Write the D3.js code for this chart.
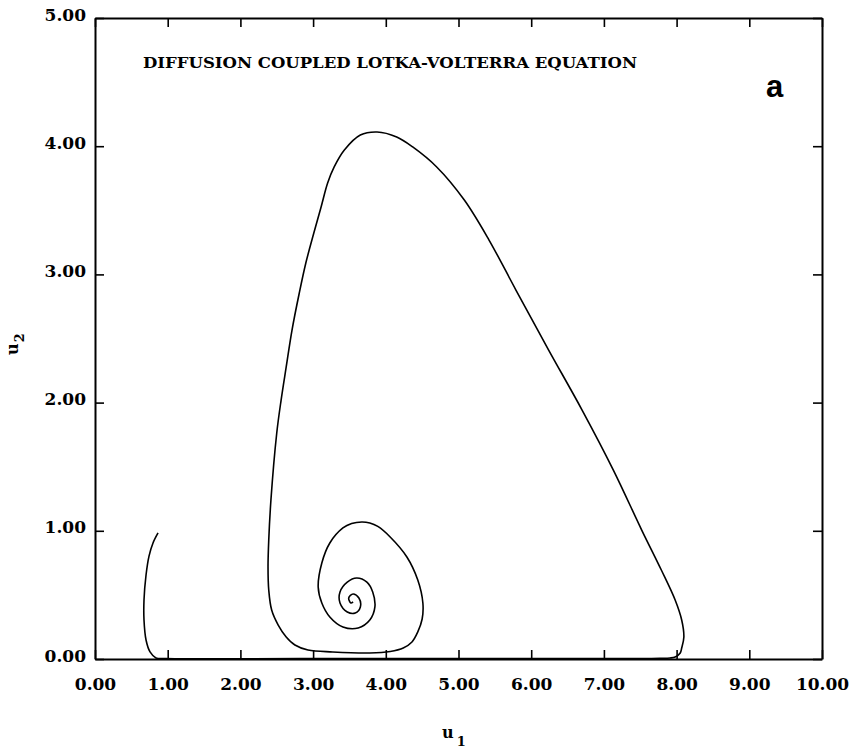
<html><head>
  <script src="https://d3js.org/d3.v7.min.js"></script>
  <style>
    body { margin: 0; background: #fff; }
    text { font-family: 'DejaVu Serif', serif; }
  </style>
</head>
<body>
  <script>
    // tick values
    const xTicks = [0, 1, 2, 3, 4, 5, 6, 7, 8, 9, 10]
    const yTicks = [0, 1, 2, 3, 4, 5]
    const title = "DIFFUSION COUPLED LOTKA-VOLTERRA EQUATION"
    const panelLabel = "a"

    // trajectory (u1, u2)
    const u1Values = [0.867, 0.798, 0.743, 0.702, 0.674, 0.674, 0.702, 0.757, 0.839, 0.977,
      2.82, 5.57, 7.50, 7.77, 7.91,
      7.98, 8.05, 8.07, 8.10, 8.07, 7.98, 7.79, 7.52, 7.13, 6.70, 6.24, 5.79, 5.42, 5.08,
      4.70, 4.37, 4.15, 3.88, 3.65, 3.43, 3.29, 3.20, 3.11, 3.01, 2.90, 2.81, 2.71, 2.63,
      2.56, 2.50, 2.42, 2.39, 2.38, 2.39, 2.43, 2.52, 2.63, 2.75, 2.93, 3.27, 3.78, 4.06,
      4.24, 4.36, 4.44, 4.50, 4.51,
      4.44, 4.29, 4.06, 3.89, 3.78, 3.67, 3.53, 3.41, 3.23, 3.12, 3.07, 3.12, 3.23,
      3.41, 3.62, 3.78, 3.85, 3.82, 3.74, 3.60, 3.47, 3.37, 3.37, 3.47, 3.58, 3.65, 3.63,
      3.55, 3.49, 3.52, 3.55]
    const u2Values = [0.983, 0.905, 0.803, 0.655, 0.460, 0.304, 0.148, 0.055, 0.008, 0.003,
      0.003, 0.003, 0.003, 0.005, 0.008,
      0.016, 0.047, 0.086, 0.172, 0.304, 0.460, 0.694, 1.006, 1.474, 1.942, 2.410, 2.878, 3.268, 3.580,
      3.838, 3.994, 4.072, 4.111, 4.087, 3.970, 3.838, 3.713, 3.526, 3.323, 3.089, 2.855, 2.566, 2.278,
      2.020, 1.763, 1.240, 0.928, 0.718, 0.538, 0.382, 0.265, 0.172, 0.109, 0.070, 0.055, 0.047, 0.059,
      0.086, 0.133, 0.211, 0.312, 0.437,
      0.616, 0.796, 0.952, 1.034, 1.061, 1.069, 1.057, 1.022, 0.905, 0.749, 0.562, 0.437, 0.328,
      0.25, 0.242, 0.304, 0.406, 0.523, 0.60, 0.632, 0.60, 0.523, 0.437, 0.367, 0.359, 0.406, 0.476,
      0.507, 0.476, 0.437, 0.445]

    const width = 851, height = 752
    const svg = d3.select("body").append("svg")
                  .attr("width", width)
                  .attr("height", height)

    const x = d3.scaleLinear().domain([0, 10]).range([95, 822])
    const y = d3.scaleLinear().domain([0, 5]).range([659, 18])
    const fmt = d3.format(".2f")

    // axes, ticks point inward
    const bottom = svg.append("g")
        .attr("transform", `translate(0,${y(0)})`)
        .call(d3.axisBottom(x).tickValues(xTicks).tickSizeInner(-9).tickSizeOuter(0).tickFormat(fmt))
    bottom.selectAll("text").attr("y", 31).attr("dy", 0)

    const left = svg.append("g")
        .attr("transform", `translate(${x(0)},0)`)
        .call(d3.axisLeft(y).tickValues(yTicks).tickSizeInner(-9).tickSizeOuter(0).tickFormat(fmt))
    left.selectAll("text").attr("x", -9).attr("dy", 2)

    svg.append("g")
        .attr("transform", `translate(0,${y(5)})`)
        .call(d3.axisTop(x).tickValues(xTicks).tickSizeInner(-9).tickSizeOuter(0).tickFormat(""))
    svg.append("g")
        .attr("transform", `translate(${x(10)},0)`)
        .call(d3.axisRight(y).tickValues(yTicks).tickSizeInner(-9).tickSizeOuter(0).tickFormat(""))

    svg.selectAll(".domain").attr("stroke", "#000").attr("stroke-width", 2)
    svg.selectAll(".tick line").attr("stroke", "#000").attr("stroke-width", 1.6)
    svg.selectAll(".tick text")
        .attr("fill", "#000")
        .style("font-family", "'DejaVu Serif', serif")
        .style("font-weight", "bold")
        .style("font-size", "17px")

    // trajectory
    const pts = u1Values.map((d, i) => [d, u2Values[i]])
    const line = d3.line()
                   .x(d => x(d[0]))
                   .y(d => y(d[1]))
                   .curve(d3.curveCatmullRom.alpha(0.5))
    svg.append("path")
        .datum(pts)
        .attr("d", line)
        .attr("fill", "none")
        .attr("stroke", "#000")
        .attr("stroke-width", 1.6)

    // title and panel letter
    svg.append("text")
        .attr("x", 143)
        .attr("y", 68)
        .attr("textLength", 494)
        .attr("lengthAdjust", "spacingAndGlyphs")
        .style("font-size", "15px")
        .style("font-weight", "bold")
        .text(title)

    svg.append("text")
        .attr("x", 766)
        .attr("y", 97)
        .style("font-family", "'Liberation Sans', Arial, sans-serif")
        .style("font-weight", "bold")
        .style("font-size", "31px")
        .text(panelLabel)

    // axis labels with subscripts
    const xl = svg.append("text")
        .attr("x", 442)
        .attr("y", 738)
        .style("font-weight", "bold")
        .style("font-size", "16px")
    xl.append("tspan").text("u")
    xl.append("tspan").attr("dy", 8).attr("dx", 3).style("font-size", "13px").text("1")

    const yl = svg.append("text")
        .attr("transform", "translate(18,355) rotate(-90)")
        .style("font-weight", "bold")
        .style("font-size", "16px")
    yl.append("tspan").text("u")
    yl.append("tspan").attr("dy", 6).attr("dx", 1).style("font-size", "13px").text("2")
  </script>
</body></html>
